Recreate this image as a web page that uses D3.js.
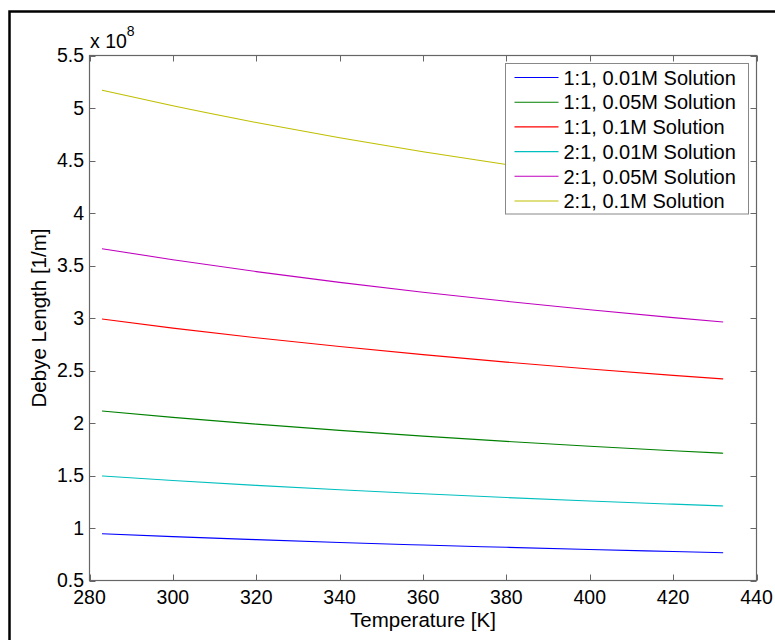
<!DOCTYPE html>
<html>
<head>
<meta charset="utf-8">
<script src="https://cdn.jsdelivr.net/npm/d3@7"></script>
<style>
  body { margin: 0; background: #fff; }
  svg text { font-family: "Liberation Sans", Arial, sans-serif; fill: #000; }
</style>
</head>
<body>
<svg id="chart" width="775" height="640"></svg>
<script>
const temps = [283, 300, 320, 340, 360, 380, 400, 420, 432];

// debye values, in units of 1e8 1/m
const blue01 = [0.945, 0.918, 0.889, 0.862, 0.838, 0.816, 0.795, 0.776, 0.765];
const green05 = [2.115, 2.054, 1.989, 1.930, 1.875, 1.825, 1.779, 1.736, 1.712];
const red1 = [2.99, 2.904, 2.812, 2.728, 2.651, 2.580, 2.515, 2.454, 2.420];
const cyan01 = [1.495, 1.452, 1.406, 1.364, 1.326, 1.290, 1.257, 1.227, 1.210];
const magenta05 = [3.66, 3.555, 3.442, 3.339, 3.245, 3.159, 3.079, 3.004, 2.962];
const yellow1 = [5.17, 5.021, 4.862, 4.717, 4.584, 4.462, 4.349, 4.244, 4.184];

const seriesNames = [
  '1:1, 0.01M Solution', '1:1, 0.05M Solution', '1:1, 0.1M Solution',
  '2:1, 0.01M Solution', '2:1, 0.05M Solution', '2:1, 0.1M Solution'
];
const seriesValues = [blue01, green05, red1, cyan01, magenta05, yellow1];
const seriesColors = ['#0000ff', '#008000', '#ff0000', '#00bfbf', '#bf00bf', '#bfbf00'];

const xTicks = [280, 300, 320, 340, 360, 380, 400, 420, 440];
const yTicks = [0.5, 1, 1.5, 2, 2.5, 3, 3.5, 4, 4.5, 5, 5.5];

const svg = d3.select('#chart');

// figure frame
svg.append('rect')
  .attr('x', 9.5).attr('y', 11.5)
  .attr('width', 800).attr('height', 700)
  .attr('fill', 'none')
  .attr('stroke', '#000')
  .attr('stroke-width', 2.5);

const plotL = 89.5, plotR = 756.5, plotT = 55.5, plotB = 580.5;

const x = d3.scaleLinear().domain([280, 440]).range([plotL, plotR]);
const y = d3.scaleLinear().domain([0.5, 5.5]).range([plotB, plotT]);

const axisColor = '#666';
const tickLen = 6;

const axes = svg.append('g');
axes.append('rect')
  .attr('x', plotL).attr('y', plotT)
  .attr('width', plotR - plotL).attr('height', plotB - plotT)
  .attr('fill', 'none')
  .attr('stroke', axisColor)
  .attr('stroke-width', 1.2);

// ticks drawn inwards on all four sides
xTicks.forEach(t => {
  const px = Math.round(x(t)) + 0.5;
  axes.append('line').attr('x1', px).attr('x2', px).attr('y1', plotB).attr('y2', plotB - tickLen)
    .attr('stroke', axisColor);
  axes.append('line').attr('x1', px).attr('x2', px).attr('y1', plotT).attr('y2', plotT + tickLen)
    .attr('stroke', axisColor);
  axes.append('text')
    .attr('x', x(t)).attr('y', 604)
    .attr('text-anchor', 'middle')
    .style('font-size', '19.5px')
    .text(t);
});

yTicks.forEach(t => {
  const py = Math.round(y(t)) + 0.5;
  axes.append('line').attr('x1', plotL).attr('x2', plotL + tickLen).attr('y1', py).attr('y2', py)
    .attr('stroke', axisColor);
  axes.append('line').attr('x1', plotR).attr('x2', plotR - tickLen).attr('y1', py).attr('y2', py)
    .attr('stroke', axisColor);
  axes.append('text')
    .attr('x', 84).attr('y', y(t))
    .attr('dy', '0.35em')
    .attr('text-anchor', 'end')
    .style('font-size', '19.5px')
    .text(t);
});

// exponent label
const expo = svg.append('text')
  .attr('x', 90).attr('y', 48)
  .style('font-size', '19.5px');
expo.append('tspan').text('x 10');
expo.append('tspan').attr('dy', -12).style('font-size', '14px').text('8');

// axis labels
svg.append('text')
  .attr('x', (plotL + plotR) / 2).attr('y', 627)
  .attr('text-anchor', 'middle')
  .style('font-size', '20.5px')
  .text('Temperature [K]');

svg.append('text')
  .attr('transform', `translate(46,${(plotT + plotB) / 2}) rotate(-90)`)
  .attr('text-anchor', 'middle')
  .style('font-size', '20.5px')
  .text('Debye Length [1/m]');

// curves
const line = d3.line()
  .x((d, i) => x(temps[i]))
  .y(d => y(d))
  .curve(d3.curveMonotoneX);

svg.append('g').selectAll('path')
  .data(seriesValues)
  .enter().append('path')
  .attr('d', line)
  .attr('fill', 'none')
  .attr('stroke', (d, i) => seriesColors[i])
  .attr('stroke-width', 1.1);

// legend
const lg = svg.append('g').attr('transform', 'translate(505.5,63.5)');
lg.append('rect')
  .attr('width', 243).attr('height', 150.5)
  .attr('fill', '#fff')
  .attr('stroke', '#888')
  .attr('stroke-width', 1);

const rows = lg.selectAll('g.row')
  .data(seriesNames)
  .enter().append('g')
  .attr('class', 'row')
  .attr('transform', (d, i) => `translate(0,${14 + i * 24.7})`);

rows.append('line')
  .attr('x1', 9).attr('x2', 53)
  .attr('y1', 0).attr('y2', 0)
  .attr('stroke', (d, i) => seriesColors[i])
  .attr('stroke-width', 1.1);

rows.append('text')
  .attr('x', 58).attr('y', 0)
  .attr('dy', '0.36em')
  .style('font-size', '20px')
  .text(d => d);
</script>
</body>
</html>
